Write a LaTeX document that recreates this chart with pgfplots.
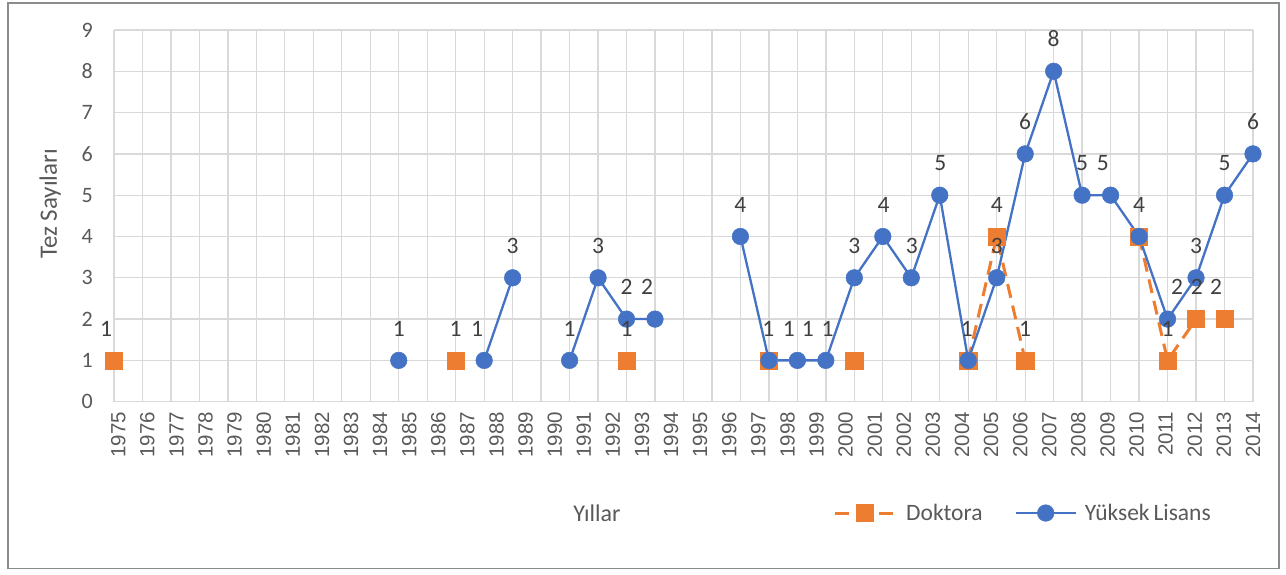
\documentclass[border=0pt]{standalone}
\usepackage{fontspec}
\setmainfont{Carlito}
\newfontfamily\yearfont{Liberation Sans}
\usepackage{pgfplots}
\pgfplotsset{compat=1.18}
\definecolor{dok}{HTML}{ED7D31}
\definecolor{yl}{HTML}{4472C4}
\definecolor{gridc}{HTML}{D9D9D9}
\definecolor{txt}{HTML}{595959}
\definecolor{lbl}{HTML}{404040}

\pgfplotstableread{
x y
0 1
1 nan
12 1
13 nan
18 1
19 nan
23 1
24 nan
26 1
27 nan
30 1
31 4
32 1
33 nan
36 4
37 1
38 2
38.5 nan
39 2
}\doktora

\pgfplotstableread{
x y
10 1
11 nan
13 1
14 3
15 nan
16 1
17 3
18 2
19 2
20 nan
22 4
23 1
24 1
25 1
26 3
27 4
28 3
29 5
30 1
31 3
32 6
33 8
34 5
35 5
36 4
37 2
38 3
39 5
40 6
}\yuksek

\pgfplotstableread{
x y lab
-0.28 1.58 1
10 1.58 1
12 1.58 1
12.75 1.58 1
14 3.58 3
16 1.58 1
17 3.58 3
18 1.58 1
18 2.58 2
18.72 2.58 2
22 4.58 4
22.98 1.58 1
23.7 1.58 1
24.37 1.58 1
25.06 1.58 1
26 3.58 3
27.03 4.58 4
28.02 3.58 3
29.02 5.58 5
29.95 1.58 1
31 4.58 4
31 3.58 3
32 6.58 6
32 1.58 1
33 8.58 8
34 5.58 5
34.73 5.58 5
36 4.58 4
37.33 2.58 2
38.03 2.58 2
38.7 2.58 2
37 1.58 1
38 3.58 3
39 5.58 5
40 6.58 6
}\labels

\begin{document}
\begin{tikzpicture}
\path (-114pt,-173.3pt) rectangle (1172pt,401.7pt);
\draw[color=black!45, line width=1.2pt] (-106pt,-167pt) rectangle (1165pt,398.7pt);
\begin{axis}[
  at={(0pt,0pt)}, anchor=south west,
  scale only axis, width=1139pt, height=371.7pt,
  xmin=0, xmax=40, ymin=0, ymax=9,
  clip=false,
  axis line style={draw=none},
  ytick={0,...,9},
  ymajorgrids,
  major grid style={gridc, line width=1.3pt},
  xtick={0.150,1.172,2.194,3.215,4.237,5.259,6.281,7.303,8.324,9.346,10.368,11.390,12.411,13.433,14.455,15.477,16.499,17.520,18.542,19.564,20.586,21.608,22.629,23.651,24.673,25.695,26.717,27.738,28.760,29.782,30.804,31.825,32.847,33.869,34.891,35.913,36.934,37.956,38.978,39.999},
  xticklabels={1975,1976,1977,1978,1979,1980,1981,1982,1983,1984,1985,1986,1987,1988,1989,1990,1991,1992,1993,1994,1995,1996,1997,1998,1999,2000,2001,2002,2003,2004,2005,2006,2007,2008,2009,2010,2011,2012,2013,2014},
  minor xtick={0,...,40},
  xminorgrids,
  minor grid style={gridc, line width=1.3pt},
  extra y ticks={0},
  extra y tick labels={},
  extra y tick style={grid style={color=black!30, line width=1.3pt}},
  major tick length=0pt, minor tick length=0pt,
  tick style={draw=none},
  xticklabel style={rotate=90, anchor=east, font=\yearfont\fontsize{20.5}{21}\selectfont, text=txt, inner sep=0pt},
  xticklabel shift=10pt,
  yticklabel style={font=\fontsize{22}{22}\selectfont, text=txt, inner sep=0pt},
  yticklabel shift=21pt,
  /pgf/number format/assume math mode=true,
  xlabel={Yıllar},
  xlabel style={at={(axis description cs:0.424,-0.2995)}, anchor=center, font=\fontsize{24}{24}\selectfont, text=txt},
  ylabel={Tez Sayıları},
  ylabel style={at={(axis description cs:-0.056,0.532)}, anchor=center, font=\fontsize{25}{25}\selectfont, text=txt},
  unbounded coords=jump,
  legend columns=2,
  legend style={at={(axis description cs:0.6286,-0.2995)}, anchor=west, draw=none, fill=none,
    font=\fontsize{23.5}{24}\selectfont, text=txt,
    /tikz/every even column/.append style={column sep=30pt}},
  legend image code/.code={\draw[mark repeat=2,mark phase=2,#1] plot coordinates {(0pt,0pt) (30pt,0pt) (60pt,0pt)};},
]
\addplot[dok, line width=3pt, dash pattern=on 14pt off 8pt, mark=square*, mark size=8.6pt, mark options={solid, fill=dok, draw=dok, line width=0.5pt}] table[x=x,y=y] {\doktora};
\addlegendentry{\hspace{8pt}Doktora}
\addplot[yl, line width=2.3pt, mark=*, mark size=8.3pt, mark options={solid, fill=yl, draw=yl, line width=0.5pt}] table[x=x,y=y] {\yuksek};
\addlegendentry{\hspace{6pt}Yüksek\,Lisans}
\addplot[forget plot, draw=none, mark=none, nodes near coords, point meta=explicit symbolic,
  nodes near coords style={anchor=south, inner sep=0pt, font=\fontsize{23.5}{24}\selectfont, text=lbl}]
  table[x=x,y=y,meta=lab] {\labels};
\end{axis}
\end{tikzpicture}
\end{document}
